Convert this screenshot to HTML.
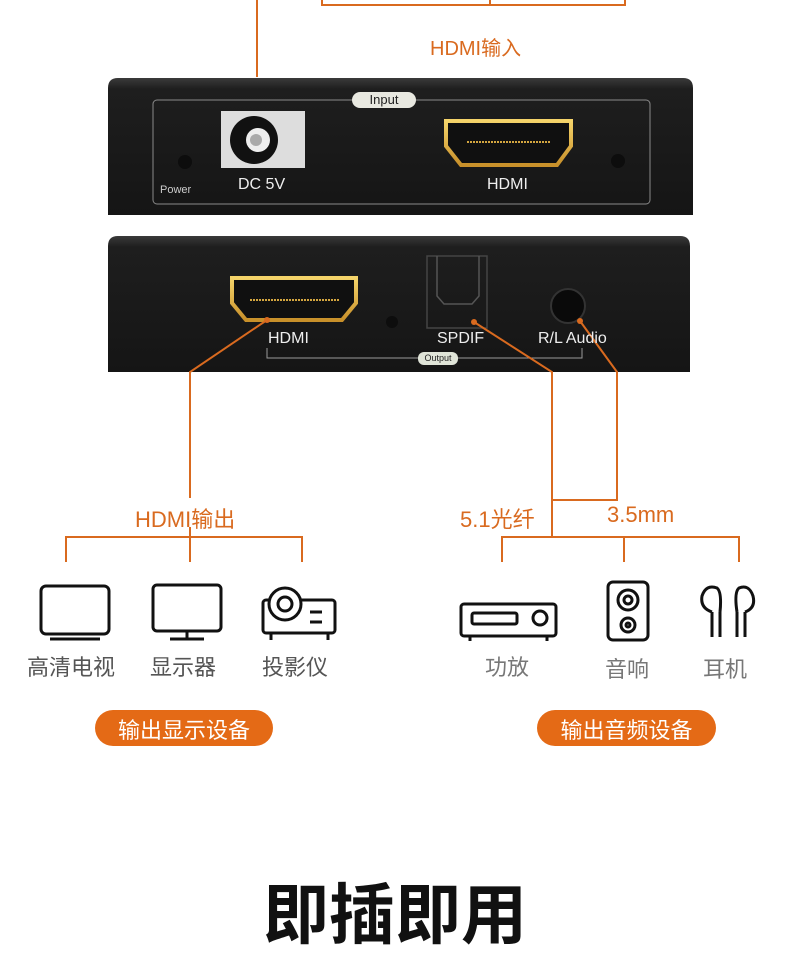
<!DOCTYPE html>
<html><head><meta charset="utf-8"><style>
body{margin:0;width:790px;height:961px;background:#fff;position:relative;overflow:hidden;font-family:"Liberation Sans","Noto Sans CJK SC",sans-serif}
.t{position:absolute;white-space:nowrap}
</style></head><body>
<svg width="790" height="961" style="position:absolute;left:0;top:0">
<defs>
<linearGradient id="dev" x1="0" y1="0" x2="0" y2="1"><stop offset="0" stop-color="#3a3a3a"/><stop offset="0.08" stop-color="#1e1e1e"/><stop offset="1" stop-color="#151515"/></linearGradient>
<linearGradient id="gold" x1="0" y1="0" x2="0" y2="1"><stop offset="0" stop-color="#f5d46a"/><stop offset="1" stop-color="#c8902a"/></linearGradient>
</defs>
<!-- top device -->
<path d="M108 215V88Q108 78 118 78H683Q693 78 693 88V215Z" fill="url(#dev)"/>
<rect x="153" y="100" width="497" height="104" rx="4" fill="none" stroke="#8a8a8a" stroke-width="1"/>
<rect x="352" y="92" width="64" height="16" rx="8" fill="#e8e8e0"/>
<rect x="221" y="111" width="84" height="57" fill="#ddd"/>
<circle cx="254" cy="140" r="24" fill="#111"/><circle cx="258" cy="140" r="12" fill="#eee"/><circle cx="256" cy="140" r="6" fill="#aaa"/>
<circle cx="185" cy="162" r="7" fill="#0d0d0d"/><circle cx="618" cy="161" r="7" fill="#0d0d0d"/>
<path d="M446 121H571V146L557 165H461L446 146Z" fill="#101010" stroke="url(#gold)" stroke-width="4"/>
<line x1="467" y1="142" x2="550" y2="142" stroke="#d4a640" stroke-width="2" stroke-dasharray="2 1"/>
<!-- bottom device -->
<path d="M108 372V246Q108 236 118 236H680Q690 236 690 246V372Z" fill="url(#dev)"/>
<path d="M232 278H356V303L342 320H246L232 303Z" fill="#101010" stroke="url(#gold)" stroke-width="4"/>
<line x1="250" y1="300" x2="340" y2="300" stroke="#d4a640" stroke-width="2" stroke-dasharray="2 1"/>
<circle cx="392" cy="322" r="6" fill="#0d0d0d"/>
<rect x="427" y="256" width="60" height="72" fill="none" stroke="#444" stroke-width="1.5"/>
<path d="M437 256V296L444 304H472L479 296V256" fill="none" stroke="#555" stroke-width="1.5"/>
<circle cx="568" cy="306" r="17" fill="#0a0a0a" stroke="#333" stroke-width="2"/>
<path d="M267 348V358H582V348" fill="none" stroke="#999" stroke-width="1"/>
<rect x="418" y="352" width="40" height="13" rx="6" fill="#e0e4d8"/>
<g stroke="#d96a1f" stroke-width="2" fill="none">
<path d="M257 0V77M322 0V5H625V0M490 5V0"/>
<path d="M267 320L190 372V498M190 527V537M66 562V537H302V562M190 537V562"/>
<path d="M474 322L552 372V537M580 321L617 372V500H552M502 562V537H739V562M624 537V562"/>
</g>
<g fill="#d96a1f"><circle cx="267" cy="320" r="3"/><circle cx="474" cy="322" r="3"/><circle cx="580" cy="321" r="3"/></g>
<!-- icons -->
<g fill="none" stroke="#111" stroke-width="3">
<rect x="41" y="586" width="68" height="48" rx="5"/><line x1="50" y1="639" x2="100" y2="639"/>
<rect x="153" y="585" width="68" height="46" rx="4"/><path d="M187 631V639M170 639H204"/>
<rect x="263" y="600" width="72" height="33" rx="3"/><circle cx="285" cy="604" r="16" fill="#fff"/><circle cx="285" cy="604" r="7"/>
<path d="M310 612H322M310 622H322M271 633V640M328 633V640"/>
<rect x="461" y="604" width="95" height="32" rx="3"/><rect x="472" y="613" width="45" height="11" rx="2"/><circle cx="540" cy="618" r="7"/><path d="M470 636V641M547 636V641"/>
<rect x="608" y="582" width="40" height="58" rx="5"/><circle cx="628" cy="600" r="10"/><circle cx="628" cy="600" r="4"/><circle cx="628" cy="625" r="7"/><circle cx="628" cy="625" r="2"/>
<path d="M712 612V637M720 612V637M712 612Q700 608 702 596Q706 584 717 588Q722 592 720 612"/>
<path d="M737 612V637M745 612V637M745 612Q756 608 753 596Q749 584 739 588Q734 592 737 612"/>
</g>
<rect x="95" y="710" width="178" height="36" rx="18" fill="#e46a16"/>
<rect x="537" y="710" width="179" height="36" rx="18" fill="#e46a16"/>
</svg>
<div class="t" style="left:430px;top:32px;font-size:20px;color:#d96a1f">HDMI输入</div>
<div class="t" style="left:353px;top:92px;width:62px;text-align:center;font-size:13px;color:#222">Input</div>
<div class="t" style="left:160px;top:184px;font-size:11px;color:#ccc">Power</div>
<div class="t" style="left:238px;top:176px;font-size:16px;color:#eee">DC 5V</div>
<div class="t" style="left:487px;top:176px;font-size:16px;color:#eee">HDMI</div>
<div class="t" style="left:268px;top:330px;font-size:16px;color:#eee">HDMI</div>
<div class="t" style="left:437px;top:330px;font-size:16px;color:#eee">SPDIF</div>
<div class="t" style="left:538px;top:330px;font-size:16px;color:#eee">R/L Audio</div>
<div class="t" style="left:418px;top:353px;width:40px;text-align:center;font-size:9px;color:#222">Output</div>
<div class="t" style="left:135px;top:502px;font-size:22px;color:#d96a1f">HDMI输出</div>
<div class="t" style="left:460px;top:502px;font-size:22px;color:#d96a1f">5.1光纤</div>
<div class="t" style="left:607px;top:502px;font-size:22px;color:#d96a1f">3.5mm</div>
<div class="t" style="left:27px;top:650px;font-size:22px;color:#555">高清电视</div>
<div class="t" style="left:150px;top:650px;font-size:22px;color:#555">显示器</div>
<div class="t" style="left:262px;top:650px;font-size:22px;color:#555">投影仪</div>
<div class="t" style="left:485px;top:650px;font-size:22px;color:#777">功放</div>
<div class="t" style="left:605px;top:652px;font-size:22px;color:#777">音响</div>
<div class="t" style="left:703px;top:652px;font-size:22px;color:#777">耳机</div>
<div class="t" style="left:95px;top:713px;width:178px;text-align:center;font-size:22px;color:#fff">输出显示设备</div>
<div class="t" style="left:537px;top:713px;width:179px;text-align:center;font-size:22px;color:#fff">输出音频设备</div>
<div class="t" style="left:0;top:862px;width:790px;text-align:center;font-size:66px;font-weight:bold;color:#111">即插即用</div>
</body></html>
